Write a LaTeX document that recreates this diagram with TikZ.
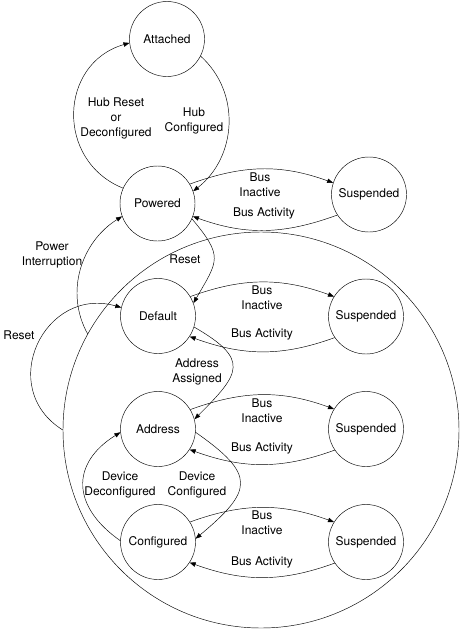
\documentclass[tikz,border=0pt]{standalone}
\usepackage{fontspec}
\setmainfont{TeX Gyre Heros}
\usetikzlibrary{arrows.meta}

\begin{document}
\begin{tikzpicture}[x=1pt, y=-1pt, line width=0.45pt,
    statenode/.style={circle, draw, minimum size=75pt, inner sep=0pt,
        font=\fontsize{12}{15}\selectfont},
    lbl/.style={align=center, inner sep=1pt, font=\fontsize{12}{15}\selectfont},
    trans/.style={-{Triangle[length=6pt,width=4.5pt]}}]
    \useasboundingbox (0,0) rectangle (465,637);
    %% Power region
    \node[circle, draw, minimum size=396pt, inner sep=0pt] (region) at (261,430) {};
    %% States
    \node[statenode] (attached) at (167,39) {Attached};
    \node[statenode] (powered) at (157.5,203.5) {Powered};
    \node[statenode] (default) at (158,316) {Default};
    \node[statenode] (address) at (158,429) {Address};
    \node[statenode] (configured) at (158,542) {Configured};
    \node[statenode] (susPowered) at (369,194.5) {Suspended};
    \node[statenode] (susDefault) at (366,316.5) {Suspended};
    \node[statenode] (susAddress) at (366,429) {Suspended};
    \node[statenode] (susConfigured) at (366,542) {Suspended};

    %% Attached / Powered
    \draw[trans] (powered.156) to[out=158, in=196, looseness=1.29] (attached.186);
    \draw[trans] (attached.-27) to[out=-42, in=38, looseness=1.04] (powered.19);
    %% Bus Inactive / Bus Activity
    \draw[trans] (powered.31) to[out=20, in=160] (susPowered.162);
    \draw[trans] (susPowered.213) to[out=200, in=-20] (powered.-20);
    \draw[trans] (default.31) to[out=20, in=160] (susDefault.148);
    \draw[trans] (susDefault.214) to[out=200, in=-20] (default.-33);
    \draw[trans] (address.31) to[out=20, in=160] (susAddress.148);
    \draw[trans] (susAddress.214) to[out=200, in=-20] (address.-33);
    \draw[trans] (configured.32) to[out=20, in=160] (susConfigured.148);
    \draw[trans] (susConfigured.214) to[out=200, in=-20] (configured.-33);
    %% Resets
    \draw[trans] (powered.-24) to[out=-50, in=60, looseness=1.5] (default.20);
    \draw[trans] (region.151) to[out=119, in=212] (powered.200);
    \draw[trans] (region.180) to[out=148, in=164, looseness=1.5] (default.167);
    %% Address / Configured
    \draw[trans] (default.-17) to[out=-30, in=45, looseness=1.8] (address.15);
    \draw[trans] (address.-5) to[out=-35, in=40, looseness=1.8] (configured.5);
    \draw[trans] (configured.178) to[out=145, in=212, looseness=1.4] (address.185);

    %% Labels
    \node[lbl] (lblHubReset) at (116,118) {Hub Reset\\or\\Deconfigured};
    \node[lbl] (lblHubConf) at (194,121) {Hub\\Configured};
    \node[lbl] (lblPowerInt) at (52,255) {Power\\Interruption};
    \node[lbl] (lblResetLeft) at (19,335) {Reset};
    \node[lbl] (lblReset) at (185,259) {Reset};
    \node[lbl] (lblAddrAssigned) at (197,372) {Address\\Assigned};
    \node[lbl] (lblDevDeconf) at (120,485) {Device\\Deconfigured};
    \node[lbl] (lblDevConf) at (197,485) {Device\\Configured};
    \node[lbl] (lblInactiveP) at (260,184.5) {Bus\\Inactive};
    \node[lbl] (lblActivityP) at (264,213) {Bus Activity};
    \node[lbl] (lblInactiveD) at (262,297.5) {Bus\\Inactive};
    \node[lbl] (lblActivityD) at (262,334.5) {Bus Activity};
    \node[lbl] (lblInactiveA) at (262,410.5) {Bus\\Inactive};
    \node[lbl] (lblActivityA) at (262,448) {Bus Activity};
    \node[lbl] (lblInactiveC) at (262,523) {Bus\\Inactive};
    \node[lbl] (lblActivityC) at (262,562) {Bus Activity};
\end{tikzpicture}
\end{document}
